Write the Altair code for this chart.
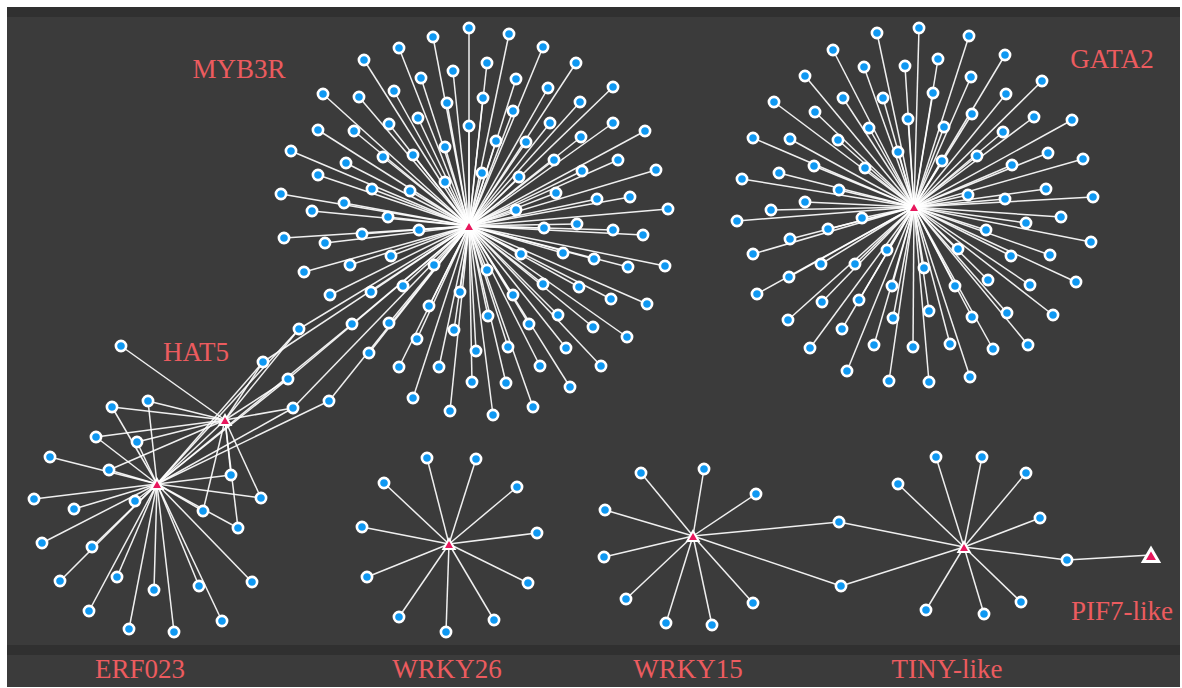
import altair as alt
import pandas as pd

W, H = 1182, 688

# ---- hubs (transcription factors) ----
hub_names = ["MYB3R", "GATA2", "HAT5", "ERF023", "WRKY26", "WRKY15", "TINY-like", "PIF7-like"]
hub_x = [469, 914, 225, 157, 449, 693, 964, 1151]
hub_y = [226, 207, 420, 484, 544, 536, 547, 555]

# ---- labels ----
label_text = ["MYB3R", "GATA2", "HAT5", "PIF7-like", "ERF023", "WRKY26", "WRKY15", "TINY-like"]
label_x = [239, 1112, 196, 1122, 140, 447, 688, 947]
label_y = [70, 60, 353, 612, 670, 670, 670, 670]

# ---- target genes ----
myb3r_x = [469, 433, 509, 399, 543, 364, 487, 576, 453, 421, 516, 613, 323, 359, 394, 548, 447, 483, 580, 513,
           418, 318, 354, 389, 469, 550, 613, 645, 291, 383, 413, 445, 496, 526, 581, 346, 554, 618, 656, 318,
           582, 482, 519, 445, 372, 410, 556, 281, 344, 597, 630, 312, 388, 516, 668, 419, 544, 577, 613, 643,
           284, 325, 362, 391, 434, 521, 563, 594, 628, 665, 304, 350, 487, 330, 371, 403, 460, 543, 579, 611,
           647, 513, 389, 429, 488, 529, 558, 593, 627, 369, 417, 454, 476, 508, 566, 601, 399, 439, 472, 506,
           540, 570, 413, 450, 493, 533]
myb3r_y = [28, 37, 34, 48, 47, 60, 63, 63, 71, 78, 79, 87, 94, 97, 91, 88, 103, 98, 102, 111,
           118, 130, 131, 124, 126, 123, 123, 131, 151, 157, 155, 147, 141, 142, 137, 163, 160, 160, 170, 175,
           171, 173, 177, 182, 189, 191, 193, 194, 203, 199, 197, 211, 217, 210, 209, 230, 228, 224, 230, 235,
           238, 243, 234, 256, 265, 254, 253, 259, 267, 266, 272, 265, 270, 295, 292, 286, 292, 284, 287, 299,
           304, 295, 323, 306, 316, 324, 315, 327, 337, 353, 339, 330, 351, 347, 348, 366, 367, 367, 382, 383,
           366, 387, 398, 411, 415, 407]

gata2_x = [919, 877, 969, 833, 1005, 938, 864, 905, 805, 971, 1042, 933, 1006, 843, 883, 774, 815, 972, 1034, 1072,
           908, 944, 869, 1003, 753, 790, 838, 898, 977, 1048, 1083, 942, 814, 865, 1012, 779, 742, 839, 968, 1005,
           1046, 1093, 805, 771, 737, 862, 1061, 1026, 828, 986, 1091, 790, 753, 887, 958, 1011, 1050, 821, 855, 924,
           789, 1076, 988, 1030, 955, 892, 757, 822, 859, 1007, 1053, 929, 972, 893, 788, 842, 874, 913, 950, 993,
           1028, 810, 847, 889, 929, 970]
gata2_y = [28, 33, 36, 50, 55, 59, 67, 66, 76, 77, 81, 93, 94, 98, 98, 102, 112, 114, 117, 120,
           119, 127, 128, 132, 138, 139, 140, 152, 156, 153, 159, 161, 166, 168, 165, 173, 179, 190, 195, 199,
           189, 197, 202, 210, 221, 218, 217, 223, 229, 230, 242, 239, 254, 250, 249, 256, 255, 264, 264, 268,
           277, 282, 280, 285, 286, 286, 294, 302, 300, 313, 315, 311, 317, 318, 320, 329, 345, 347, 344, 349,
           345, 348, 371, 381, 382, 377]

# genes bound by MYB3R, HAT5 and ERF023
bridge3_x = [299, 263, 288, 293]
bridge3_y = [329, 362, 379, 408]
# genes bound by MYB3R and ERF023
bridge2_x = [329, 352]
bridge2_y = [401, 324]

hat5_x = [121]
hat5_y = [346]

# genes bound by HAT5 and ERF023
he_x = [148, 112, 96, 137, 109, 231, 261, 203, 238]
he_y = [401, 407, 437, 442, 470, 475, 498, 511, 528]

erf_x = [50, 34, 74, 135, 42, 92, 60, 117, 154, 199, 252, 89, 129, 174, 222]
erf_y = [457, 499, 509, 501, 543, 547, 581, 577, 590, 586, 582, 611, 629, 632, 621]

wrky26_x = [427, 476, 384, 517, 537, 528, 399, 446, 494, 362, 367]
wrky26_y = [458, 459, 483, 487, 533, 583, 617, 632, 620, 527, 577]

wrky15_x = [641, 704, 756, 605, 604, 626, 666, 712, 753]
wrky15_y = [473, 469, 494, 510, 557, 599, 623, 625, 603]

# genes bound by WRKY15 and TINY-like
wt_x = [839, 841]
wt_y = [522, 586]

tiny_x = [898, 936, 982, 1026, 1040, 1021, 984, 926]
tiny_y = [484, 457, 457, 473, 518, 602, 614, 610]

# gene bound by TINY-like and PIF7-like
tp_x = [1067]
tp_y = [560]

# hub-hub links
hub_links = [("HAT5", "ERF023")]

groups = [
    (["MYB3R"], myb3r_x, myb3r_y),
    (["GATA2"], gata2_x, gata2_y),
    (["MYB3R", "HAT5", "ERF023"], bridge3_x, bridge3_y),
    (["MYB3R", "ERF023"], bridge2_x, bridge2_y),
    (["HAT5"], hat5_x, hat5_y),
    (["HAT5", "ERF023"], he_x, he_y),
    (["ERF023"], erf_x, erf_y),
    (["WRKY26"], wrky26_x, wrky26_y),
    (["WRKY15"], wrky15_x, wrky15_y),
    (["WRKY15", "TINY-like"], wt_x, wt_y),
    (["TINY-like"], tiny_x, tiny_y),
    (["TINY-like", "PIF7-like"], tp_x, tp_y),
]

hub_pos = {n: (x, y) for n, x, y in zip(hub_names, hub_x, hub_y)}

nodes, edges = [], []
for hubs, xs, ys in groups:
    for x, y in zip(xs, ys):
        nodes.append({"x": x, "y": y})
        for h in hubs:
            hx, hy = hub_pos[h]
            edges.append({"x": x, "y": y, "x2": hx, "y2": hy})
for a, b in hub_links:
    ax_, ay_ = hub_pos[a]
    bx_, by_ = hub_pos[b]
    edges.append({"x": ax_, "y": ay_, "x2": bx_, "y2": by_})

nodes_df = pd.DataFrame(nodes)
edges_df = pd.DataFrame(edges)
hubs_df = pd.DataFrame({"name": hub_names, "x": hub_x, "y": hub_y})
labels_df = pd.DataFrame({"text": label_text, "x": label_x, "y": label_y})
one = pd.DataFrame({"k": [0]})

xs = alt.Scale(domain=[0, W], nice=False, zero=False)
ys = alt.Scale(domain=[0, H], reverse=True, nice=False, zero=False)

bg = alt.Chart(one).mark_rect(color="#3b3b3b").encode(
    x=alt.value(7), x2=alt.value(1180), y=alt.value(7), y2=alt.value(687))
band_top = alt.Chart(one).mark_rect(color="#303030").encode(
    x=alt.value(7), x2=alt.value(1180), y=alt.value(7), y2=alt.value(17))
band_bot = alt.Chart(one).mark_rect(color="#303030").encode(
    x=alt.value(7), x2=alt.value(1180), y=alt.value(645), y2=alt.value(655))

edge_layer = alt.Chart(edges_df).mark_rule(color="white", strokeWidth=1.5, opacity=0.92).encode(
    x=alt.X("x:Q", scale=xs, axis=None),
    y=alt.Y("y:Q", scale=ys, axis=None),
    x2="x2:Q", y2="y2:Q")

node_layer = alt.Chart(nodes_df).mark_point(
    shape="circle", filled=True, fill="#0f98f2", stroke="white", strokeWidth=2.6,
    size=105, opacity=1).encode(
    x=alt.X("x:Q", scale=xs, axis=None),
    y=alt.Y("y:Q", scale=ys, axis=None))

hub_layer = alt.Chart(hubs_df).transform_filter(alt.datum.name != "PIF7-like").mark_point(
    shape="triangle-up", filled=True, fill="#e8175d", stroke="white", strokeWidth=2,
    size=130, opacity=1).encode(
    x=alt.X("x:Q", scale=xs, axis=None),
    y=alt.Y("y:Q", scale=ys, axis=None))

pif_layer = alt.Chart(hubs_df).transform_filter(alt.datum.name == "PIF7-like").mark_point(
    shape="triangle-up", filled=True, fill="#e8175d", stroke="white", strokeWidth=3,
    size=230, opacity=1).encode(
    x=alt.X("x:Q", scale=xs, axis=None),
    y=alt.Y("y:Q", scale=ys, axis=None))

text_layer = alt.Chart(labels_df).mark_text(
    font="Liberation Serif", fontSize=27, color="#ec5b5f", baseline="middle", align="center").encode(
    x=alt.X("x:Q", scale=xs, axis=None),
    y=alt.Y("y:Q", scale=ys, axis=None),
    text="text:N")

chart = alt.layer(bg, band_top, band_bot, edge_layer, node_layer, hub_layer, pif_layer, text_layer).properties(
    width=W, height=H, padding=0, autosize=alt.AutoSizeParams(type="none"),
    background="white"
).configure_view(stroke=None)

chart.save("out.html", embed_options={"renderer": "svg", "actions": False})
